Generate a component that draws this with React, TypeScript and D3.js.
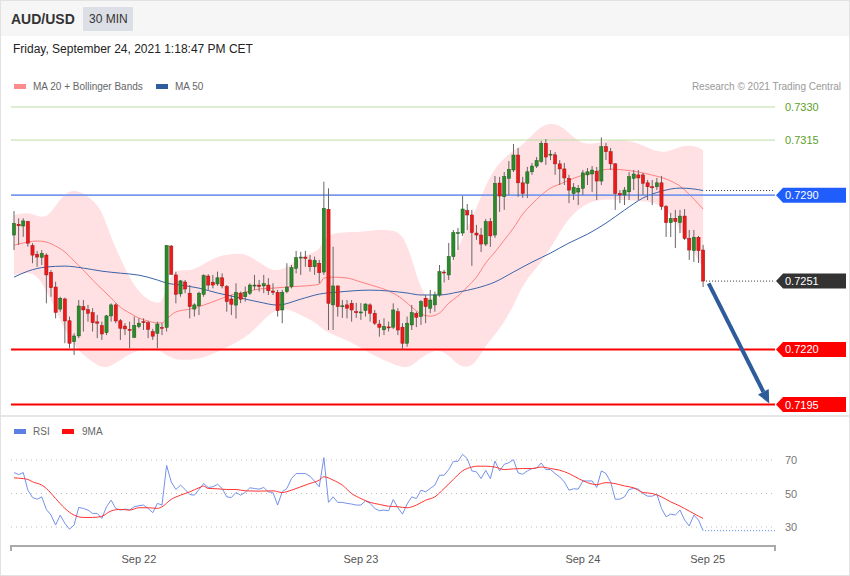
import * as d3 from "d3";

const W = 850;
const H = 576;

// AUD/USD 30 min candles (Sep 21 10:30 .. Sep 24 13:00 CET)
const opens = [
  0.72719, 0.72768, 0.7276, 0.7278, 0.72671, 0.72632, 0.72618, 0.72628, 0.7255, 0.72483,
  0.72383, 0.72429, 0.7233, 0.72235, 0.72261, 0.72394, 0.7238, 0.72367, 0.72325, 0.72308,
  0.72276, 0.72352, 0.72402, 0.7233, 0.72306, 0.72291, 0.72255, 0.72303, 0.72326, 0.72321,
  0.72281, 0.72273, 0.723, 0.723, 0.72669, 0.72538, 0.72452, 0.72506, 0.72455, 0.72383,
  0.72398, 0.7245, 0.72533, 0.72505, 0.72497, 0.72525, 0.72485, 0.72429, 0.72401, 0.72454,
  0.72439, 0.72455, 0.72488, 0.72492, 0.72488, 0.72492, 0.72465, 0.72459, 0.72379, 0.72462,
  0.72485, 0.72568, 0.72616, 0.72619, 0.72606, 0.72575, 0.72591, 0.72551, 0.72836, 0.72402,
  0.72488, 0.72394, 0.72402, 0.72409, 0.72371, 0.7237, 0.72376, 0.72402, 0.72364, 0.72315,
  0.72289, 0.72302, 0.72301, 0.72371, 0.72301, 0.72228, 0.72311, 0.72364, 0.72349, 0.72432,
  0.72387, 0.72402, 0.72447, 0.72551, 0.72538, 0.72621, 0.72728, 0.72728, 0.7283, 0.7281,
  0.72728, 0.72719, 0.72678, 0.7278, 0.72719, 0.72955, 0.72893, 0.72976, 0.73014, 0.73082,
  0.72956, 0.72954, 0.73006, 0.73032, 0.73053, 0.73135, 0.73082, 0.73083, 0.73042, 0.73019,
  0.72976, 0.72908, 0.72914, 0.72931, 0.72992, 0.72996, 0.73007, 0.72964, 0.7312, 0.73097,
  0.73042, 0.72908, 0.72901, 0.72915, 0.72976, 0.72992, 0.72992, 0.72956, 0.72938, 0.72938,
  0.72956, 0.72848, 0.72775, 0.72795, 0.72775, 0.72805, 0.72704, 0.72648, 0.72709, 0.72651,
];
const highs = [
  0.72828, 0.72795, 0.72795, 0.72783, 0.72682, 0.72647, 0.72651, 0.72636, 0.7256, 0.72507,
  0.72439, 0.72435, 0.72349, 0.72273, 0.72424, 0.72424, 0.72402, 0.72387, 0.72356, 0.72326,
  0.72356, 0.72409, 0.72409, 0.72338, 0.72319, 0.72326, 0.72349, 0.72341, 0.72341, 0.72329,
  0.72293, 0.72326, 0.72319, 0.72674, 0.72674, 0.72553, 0.72515, 0.72515, 0.72492, 0.72409,
  0.72462, 0.72541, 0.72541, 0.72538, 0.72553, 0.72545, 0.72492, 0.72447, 0.725, 0.72462,
  0.72485, 0.725, 0.72538, 0.72515, 0.72538, 0.72523, 0.725, 0.7247, 0.7247, 0.72591,
  0.72583, 0.72647, 0.72643, 0.72647, 0.72628, 0.72621, 0.72606, 0.72961, 0.72931, 0.72666,
  0.7249, 0.72424, 0.72424, 0.72424, 0.72411, 0.7241, 0.72409, 0.72409, 0.72379, 0.72334,
  0.72341, 0.72326, 0.72409, 0.72387, 0.72319, 0.72349, 0.72402, 0.72371, 0.72424, 0.72447,
  0.7247, 0.72462, 0.72583, 0.72561, 0.72683, 0.72742, 0.72751, 0.72896, 0.7286, 0.72833,
  0.72765, 0.72751, 0.72792, 0.72796, 0.72987, 0.72983, 0.73005, 0.73055, 0.73132, 0.73114,
  0.72983, 0.73028, 0.73046, 0.73073, 0.73146, 0.73154, 0.73105, 0.73096, 0.73059, 0.73046,
  0.72992, 0.72955, 0.72946, 0.73014, 0.73023, 0.73032, 0.73028, 0.73162, 0.73137, 0.73114,
  0.73046, 0.72923, 0.72937, 0.73005, 0.73014, 0.73014, 0.73001, 0.72969, 0.72969, 0.72978,
  0.72987, 0.72855, 0.72819, 0.72833, 0.72833, 0.72837, 0.72742, 0.72742, 0.72715, 0.72674,
];
const lows = [
  0.72651, 0.72674, 0.72711, 0.72666, 0.72591, 0.72575, 0.72583, 0.72409, 0.72439, 0.72341,
  0.72371, 0.72228, 0.72205, 0.72175, 0.72251, 0.72281, 0.72326, 0.72281, 0.72251, 0.72243,
  0.72265, 0.72326, 0.72319, 0.72243, 0.72265, 0.72205, 0.72251, 0.72296, 0.72288, 0.72251,
  0.72243, 0.72205, 0.72265, 0.72281, 0.72538, 0.72409, 0.72439, 0.72455, 0.72341, 0.72349,
  0.72356, 0.72439, 0.7247, 0.72477, 0.72488, 0.72477, 0.72371, 0.72356, 0.7234, 0.7241,
  0.72417, 0.72447, 0.7247, 0.72462, 0.72455, 0.72447, 0.72447, 0.72349, 0.72319, 0.72455,
  0.72477, 0.72545, 0.72538, 0.72575, 0.72553, 0.72538, 0.725, 0.72538, 0.72288, 0.72288,
  0.72349, 0.72343, 0.72341, 0.72326, 0.72343, 0.72334, 0.72349, 0.72326, 0.72311, 0.72258,
  0.72265, 0.72281, 0.72292, 0.72265, 0.72197, 0.72212, 0.72288, 0.72301, 0.72311, 0.72319,
  0.72364, 0.72371, 0.72439, 0.72504, 0.72515, 0.72606, 0.72651, 0.72715, 0.72742, 0.72579,
  0.72697, 0.72642, 0.72669, 0.72665, 0.72706, 0.72824, 0.72833, 0.72901, 0.73005, 0.72892,
  0.72887, 0.72887, 0.72992, 0.73023, 0.73046, 0.73037, 0.73059, 0.72992, 0.72946, 0.72946,
  0.72864, 0.72878, 0.72855, 0.72901, 0.72946, 0.72914, 0.72878, 0.72946, 0.73059, 0.73014,
  0.72833, 0.72864, 0.72855, 0.72878, 0.72923, 0.72878, 0.72901, 0.72878, 0.72855, 0.72923,
  0.72833, 0.7271, 0.7271, 0.7266, 0.72728, 0.72697, 0.72606, 0.72597, 0.72592, 0.72483,
];
const closes = [
  0.72772, 0.72761, 0.72783, 0.72682, 0.72628, 0.72619, 0.72636, 0.72538, 0.7248, 0.72368,
  0.72432, 0.72329, 0.72228, 0.72261, 0.72397, 0.72379, 0.72364, 0.72321, 0.72319, 0.7227,
  0.72352, 0.72402, 0.72329, 0.72296, 0.72293, 0.72287, 0.72308, 0.72319, 0.72323, 0.72291,
  0.7226, 0.72315, 0.72299, 0.72671, 0.72541, 0.7245, 0.72511, 0.72474, 0.72394, 0.72402,
  0.72455, 0.72535, 0.72492, 0.72492, 0.72525, 0.72488, 0.72417, 0.72405, 0.72459, 0.72428,
  0.72459, 0.72492, 0.72492, 0.72485, 0.72498, 0.72466, 0.72459, 0.72376, 0.72459, 0.72483,
  0.72571, 0.72616, 0.72619, 0.72613, 0.72575, 0.72604, 0.72548, 0.7284, 0.72409, 0.72488,
  0.72394, 0.72398, 0.72387, 0.72379, 0.7237, 0.7237, 0.72406, 0.72364, 0.72319, 0.723,
  0.72304, 0.72301, 0.72379, 0.72288, 0.72228, 0.72319, 0.72367, 0.72346, 0.72417, 0.72394,
  0.72424, 0.72447, 0.72553, 0.7255, 0.72621, 0.7273, 0.7273, 0.72837, 0.7281, 0.7273,
  0.72719, 0.72678, 0.7278, 0.72715, 0.72954, 0.72896, 0.72984, 0.73017, 0.73082, 0.72956,
  0.72908, 0.73006, 0.73032, 0.73057, 0.73135, 0.73073, 0.73086, 0.73042, 0.73019, 0.72978,
  0.72923, 0.72936, 0.72931, 0.73001, 0.73006, 0.73014, 0.72964, 0.7312, 0.73097, 0.73042,
  0.72908, 0.72901, 0.72923, 0.72984, 0.72996, 0.72978, 0.72954, 0.72938, 0.72937, 0.72956,
  0.72848, 0.72775, 0.72795, 0.7278, 0.72805, 0.72704, 0.72651, 0.72709, 0.72648, 0.7251,
];

// MA 20 with Bollinger bands, read at these candle indices
const bandIdx = [
  0, 3, 5, 7, 9, 11, 13, 15, 17, 19, 21, 23, 25, 27, 29, 31, 32, 33, 35, 38, 41, 44, 47, 50, 53,
  56, 59, 62, 65, 66, 67, 69, 72, 75, 78, 81, 84, 86, 88, 90, 92, 94, 96, 98, 100, 102, 104, 106,
  108, 110, 112, 114, 116, 118, 120, 123, 126, 129, 132, 135, 138, 141, 144, 147, 149,
];
const ma20 = [
  0.72673, 0.72687, 0.72692, 0.72687, 0.72669, 0.72642, 0.72601, 0.7256, 0.72515, 0.72474,
  0.72433, 0.72392, 0.72365, 0.72342, 0.72329, 0.7232, 0.7232, 0.72338, 0.7237, 0.72383,
  0.72401, 0.72424, 0.72447, 0.7246, 0.72474, 0.72478, 0.72483, 0.72487, 0.72492, 0.72496,
  0.72524, 0.72528, 0.72524, 0.72506, 0.72487, 0.72465, 0.72428, 0.72392, 0.72361, 0.72351,
  0.72365, 0.7241, 0.72442, 0.72483, 0.72528, 0.72592, 0.72642, 0.72696, 0.72751, 0.72814,
  0.7286, 0.729, 0.72932, 0.7295, 0.72968, 0.72991, 0.73009, 0.73018, 0.73014, 0.73005,
  0.72991, 0.72973, 0.72941, 0.72882, 0.72837,
];
const bbUpper = [
  0.7281, 0.72823, 0.72805, 0.72796, 0.7285, 0.72909, 0.72923, 0.72909, 0.72878, 0.72832,
  0.72705, 0.72614, 0.72524, 0.7246, 0.72424, 0.7241, 0.7241, 0.72492, 0.72569, 0.72551,
  0.72587, 0.72624, 0.72633, 0.72637, 0.72596, 0.72551, 0.72569, 0.72619, 0.72642, 0.72651,
  0.72705, 0.72728, 0.72732, 0.72732, 0.72742, 0.72742, 0.72732, 0.72614, 0.72469, 0.72415,
  0.72469, 0.72569, 0.7266, 0.72751, 0.72841, 0.72946, 0.73023, 0.73068, 0.73104, 0.73127,
  0.73173, 0.73213, 0.73227, 0.73218, 0.73182, 0.73127, 0.73136, 0.7315, 0.7315, 0.73136,
  0.73104, 0.73091, 0.73123, 0.73127, 0.73104,
];
const bbLower = [
  0.72537, 0.72551, 0.72537, 0.72469, 0.72379, 0.72288, 0.7222, 0.72174, 0.72143, 0.72115,
  0.72124, 0.72152, 0.72179, 0.72197, 0.72206, 0.72197, 0.72188, 0.72174, 0.72152, 0.72152,
  0.72161, 0.72188, 0.7222, 0.72252, 0.7231, 0.72379, 0.72388, 0.72356, 0.72324, 0.72306,
  0.72288, 0.72265, 0.72243, 0.72206, 0.7217, 0.72143, 0.72115, 0.72124, 0.72161, 0.72188,
  0.72197, 0.72174, 0.72129, 0.72115, 0.72143, 0.7222, 0.72265, 0.72324, 0.72397, 0.72492,
  0.72546, 0.72596, 0.7266, 0.72732, 0.72796, 0.72855, 0.72878, 0.72882, 0.72878, 0.72873,
  0.72869, 0.72841, 0.72751, 0.72642, 0.72569,
];

// MA 50
const ma50Idx = [
  0, 3, 7, 11, 15, 19, 23, 27, 31, 33, 36, 40, 44, 49, 53, 57, 62, 66, 70, 77, 81, 85, 88, 92,
  96, 100, 104, 108, 112, 116, 120, 124, 128, 132, 136, 140, 144, 147, 149,
];
const ma50 = [
  0.72528, 0.72555, 0.72574, 0.72578, 0.72569, 0.72555, 0.72546, 0.72537, 0.72515, 0.72501,
  0.72492, 0.72478, 0.72456, 0.72433, 0.72415, 0.72401, 0.72428, 0.72451, 0.7246, 0.72469,
  0.72465, 0.72456, 0.72447, 0.72447, 0.7246, 0.72478, 0.72506, 0.72551, 0.72596, 0.72637,
  0.72683, 0.72723, 0.72773, 0.72832, 0.72887, 0.72918, 0.72932, 0.72928, 0.72921,
];

// RSI (one value per candle) and its 9 period average
const rsi = [
  62.5, 61.3, 62.5, 52, 47.6, 46.6, 48, 40.5, 37.1, 31.2,
  37.1, 32.2, 28.7, 31.2, 41.7, 41.1, 40.1, 38.1, 38.1, 35.1,
  42.1, 46, 41.1, 40.1, 40.7, 40.1, 42.1, 42.7, 43.1, 41.1,
  38.5, 44.1, 43.1, 66.8, 56.9, 52.4, 55, 52.4, 49.4, 49,
  52.4, 55.9, 53.6, 54, 55.5, 53, 48, 47.6, 50.6, 49,
  50.7, 53.4, 53, 52.6, 53.6, 51, 50.6, 43.1, 51, 53,
  58.9, 61.9, 61.9, 61.9, 60.3, 57.3, 54, 71.4, 44.7, 48,
  44.7, 44.7, 44.1, 43.7, 43.1, 43.1, 45.6, 44.1, 41.1, 39.7,
  40.1, 39.7, 46.4, 41.5, 37.7, 43.7, 48, 47, 52, 51,
  53, 55, 60.9, 60.9, 64.3, 69.2, 69.2, 73.4, 70.8, 63.5,
  62.9, 58.9, 63.8, 58.9, 69.4, 63.5, 67.4, 68.4, 70.2, 62.3,
  61.5, 63.5, 64.9, 65.2, 68.2, 64.3, 64.3, 61.9, 59.9, 56.9,
  52, 52.8, 52.6, 57.5, 57.5, 57.5, 53.6, 63.5, 61.9, 56.9,
  46.6, 46.6, 48, 52.4, 53, 52.6, 50, 48.4, 48.4, 49.6,
  41.1, 36.1, 37.7, 37.1, 40.1, 34.2, 30.6, 37.1, 34.2, 27.8,
];
const rsiMaIdx = [
  0, 2, 3, 4, 6, 7, 9, 11, 13, 15, 17, 19, 21, 23, 25, 27, 29, 31, 32, 34, 36, 38, 40, 41, 42,
  44, 46, 48, 50, 53, 56, 58, 60, 62, 64, 66, 67, 69, 71, 73, 75, 77, 79, 81, 83, 85, 87, 89, 91,
  93, 95, 97, 99, 100, 102, 104, 106, 108, 110, 112, 114, 116, 118, 120, 122, 124, 126, 128, 130,
  132, 134, 136, 138, 140, 142, 144, 146, 148, 149,
];
const rsiMa = [
  59.3, 58.9, 58.4, 57, 55, 53, 47, 41.1, 37.1, 35.7, 35.7, 36.4, 39.6, 40.5, 40.1, 41.5, 41.5,
  41.1, 42.1, 46.5, 49, 51, 53.4, 54.4, 53, 52.8, 52.4, 52.4, 51.6, 51.4, 51.6, 50.6, 52, 54, 56,
  58, 60, 58, 55, 50, 47, 44.7, 43.5, 42.4, 42.1, 41.5, 43.1, 46, 48, 53, 58.4, 63.5, 65.8, 66.3,
  66.3, 65.8, 64.3, 64.7, 64.9, 64.9, 65.8, 64.9, 63.9, 61.9, 59, 56.5, 55.3, 56.5, 55.9, 54.5,
  53.4, 50.6, 50, 48, 45, 42.5, 39.5, 36.5, 35.1,
];

const dayLabels = ["Sep 22", "Sep 23", "Sep 24", "Sep 25"];
const dayAt = [27, 75, 123, 150];

const levels = [0.733, 0.7315, 0.729, 0.7251, 0.722, 0.7195];
const levelKinds = ["target", "target", "pivot", "last", "support", "support"];
const rsiTicks = [70, 50, 30];

const FONT = "'Liberation Sans', Arial, sans-serif";
const LEFT = 11;
const RIGHT = 775;

const kindStyle: Record<string, { line: string; width: number; box: string | null; text: string }> = {
  target: { line: "#bcdca0", width: 1, box: null, text: "#5c9e2a" },
  pivot: { line: "#7898ee", width: 1.6, box: "#1f5efc", text: "#fff" },
  last: { line: "none", width: 0, box: "#333333", text: "#fff" },
  support: { line: "#ff0000", width: 2, box: "#ff0000", text: "#fff" },
};

export default function App() {
  const x = d3.scaleLinear().domain([0, 149]).range([14, 703.1]);
  const y = d3.scaleLinear().domain([0.7195, 0.733]).range([404.5, 107]);
  const ry = d3.scaleLinear().domain([30, 70]).range([527, 460]);

  const band = d3
    .area<number>()
    .x((i) => x(bandIdx[i]))
    .y0((i) => y(bbLower[i]))
    .y1((i) => y(bbUpper[i]))
    .curve(d3.curveBasis);
  const ma20Line = d3
    .line<number>()
    .x((i) => x(bandIdx[i]))
    .y((i) => y(ma20[i]))
    .curve(d3.curveMonotoneX);
  const ma50Line = d3
    .line<number>()
    .x((i) => x(ma50Idx[i]))
    .y((i) => y(ma50[i]))
    .curve(d3.curveMonotoneX);
  const rsiLine = d3
    .line<number>()
    .x((_, i) => x(i))
    .y((d) => ry(d));
  const rsiMaLine = d3
    .line<number>()
    .x((i) => x(rsiMaIdx[i]))
    .y((i) => ry(rsiMa[i]))
    .curve(d3.curveMonotoneX);

  const last = closes.length - 1;
  // projection arrow
  const ax0 = x(150.2), ay0 = y(0.725);
  const ax1 = x(163.3), ay1 = y(0.71955);
  const ang = Math.atan2(ay1 - ay0, ax1 - ax0);
  const headL = 13, headW = 6;
  const bx = ax1 - headL * Math.cos(ang), by = ay1 - headL * Math.sin(ang);
  const head = [
    [ax1, ay1],
    [bx + headW * Math.sin(ang), by - headW * Math.cos(ang)],
    [bx - headW * Math.sin(ang), by + headW * Math.cos(ang)],
  ];

  return (
    <svg
      width={W}
      height={H}
      style={{ position: "absolute", left: 0, top: 0, fontFamily: FONT }}
    >
      <rect x={0} y={0} width={W} height={H} fill="#fff" />
      <rect x={0} y={0} width={W} height={36} fill="#f6f6f7" />
      <text x={11} y={24} fontSize={14} fontWeight="bold" fill="#333">AUD/USD</text>
      <rect x={83} y={7} width={50} height={24} fill="#dcdfe5" />
      <text x={89} y={23} fontSize={12} fill="#333">30 MIN</text>
      <text x={13} y={53} fontSize={12} fill="#222">Friday, September 24, 2021 1:18:47 PM CET</text>

      {/* legend */}
      <rect x={14} y={84} width={12} height={5} fill="#ff8c8c" />
      <text x={33} y={90} fontSize={10} fill="#666">MA 20 + Bollinger Bands</text>
      <rect x={156} y={84} width={12} height={5} fill="#2f5d9e" />
      <text x={175} y={90} fontSize={10} fill="#666">MA 50</text>
      <text x={841} y={90} fontSize={10} fill="#999" textAnchor="end">Research © 2021 Trading Central</text>

      {/* bollinger + MAs */}
      <path d={band(d3.range(bandIdx.length)) ?? ""} fill="#ffe1e4" />
      <path d={ma20Line(d3.range(bandIdx.length)) ?? ""} fill="none" stroke="#ff8080" strokeWidth={1} />
      <path d={ma50Line(d3.range(ma50Idx.length)) ?? ""} fill="none" stroke="#3b63a6" strokeWidth={1} />

      {/* level lines */}
      {levels.map((lv, k) => {
        const s = kindStyle[levelKinds[k]];
        if (s.line === "none") return null;
        return (
          <line key={"l" + k} x1={LEFT} x2={RIGHT} y1={y(lv)} y2={y(lv)} stroke={s.line} strokeWidth={s.width} />
        );
      })}
      <line x1={x(last) + 3} x2={RIGHT} y1={y(closes[last])} y2={y(closes[last])} stroke="#333" strokeDasharray="1,2" />
      <line x1={x(last) + 3} x2={RIGHT} y1={y(ma50[ma50.length - 1])} y2={y(ma50[ma50.length - 1])} stroke="#333" strokeDasharray="1,2" />

      {/* candles */}
      {closes.map((c, i) => {
        const o = opens[i];
        const up = c >= o;
        const top = y(Math.max(o, c));
        const h = Math.max(1, Math.abs(y(o) - y(c)));
        return (
          <g key={i}>
            <line x1={x(i)} x2={x(i)} y1={y(highs[i])} y2={y(lows[i])} stroke="#6b6464" strokeWidth={1} />
            <rect
              x={x(i) - 1.6}
              y={top}
              width={3.2}
              height={h}
              fill={up ? "#2b8a2b" : "#ec1b1b"}
              stroke={up ? "#1c5c1c" : "#a51010"}
              strokeWidth={0.5}
            />
          </g>
        );
      })}

      {/* arrow */}
      <line x1={ax0} y1={ay0} x2={bx} y2={by} stroke="#2e5c9b" strokeWidth={4} />
      <polygon points={head.map((p) => p.join(",")).join(" ")} fill="#2e5c9b" />

      {/* level tags */}
      {levels.map((lv, k) => {
        const s = kindStyle[levelKinds[k]];
        const yy = y(lv);
        return (
          <g key={"t" + k}>
            {s.box && (
              <path
                d={`M776,${yy} L783,${yy - 7.5} L846,${yy - 7.5} L846,${yy + 7.5} L783,${yy + 7.5} Z`}
                fill={s.box}
              />
            )}
            <text x={785} y={yy + 4} fontSize={11} fill={s.text}>
              {lv.toFixed(4)}
            </text>
          </g>
        );
      })}

      {/* panel separator */}
      <line x1={0} x2={W} y1={416} y2={416} stroke="#e6e6e6" strokeWidth={2} />

      {/* RSI panel */}
      <rect x={14} y={429} width={12} height={5} fill="#5b7fe2" />
      <text x={33} y={435} fontSize={10} fill="#666">RSI</text>
      <rect x={62} y={429} width={12} height={5} fill="#ff1010" />
      <text x={82} y={435} fontSize={10} fill="#666">9MA</text>
      {rsiTicks.map((t) => (
        <g key={t}>
          <line x1={LEFT} x2={RIGHT} y1={ry(t)} y2={ry(t)} stroke="#bbb" strokeDasharray="1,4" />
          <text x={785} y={ry(t) + 4} fontSize={11} fill="#777">{t}</text>
        </g>
      ))}
      <path d={rsiLine(rsi) ?? ""} fill="none" stroke="#7492ea" strokeWidth={1} />
      <path d={rsiMaLine(d3.range(rsiMaIdx.length)) ?? ""} fill="none" stroke="#ff3333" strokeWidth={1} />
      <line x1={x(last) + 2} x2={RIGHT} y1={ry(rsi[last])} y2={ry(rsi[last])} stroke="#5b7fe2" strokeDasharray="1,2" />

      {/* time axis */}
      <path d={`M${LEFT},551 V546 H${RIGHT} V551`} fill="none" stroke="#aaa" strokeWidth={2} />
      {dayLabels.map((lb, k) => (
        <text key={lb} x={x(dayAt[k])} y={563} fontSize={11} fill="#555" textAnchor="middle">
          {lb}
        </text>
      ))}

      <rect x={0.5} y={0.5} width={W - 1} height={H - 1} fill="none" stroke="#e2e2e2" />
    </svg>
  );
}
